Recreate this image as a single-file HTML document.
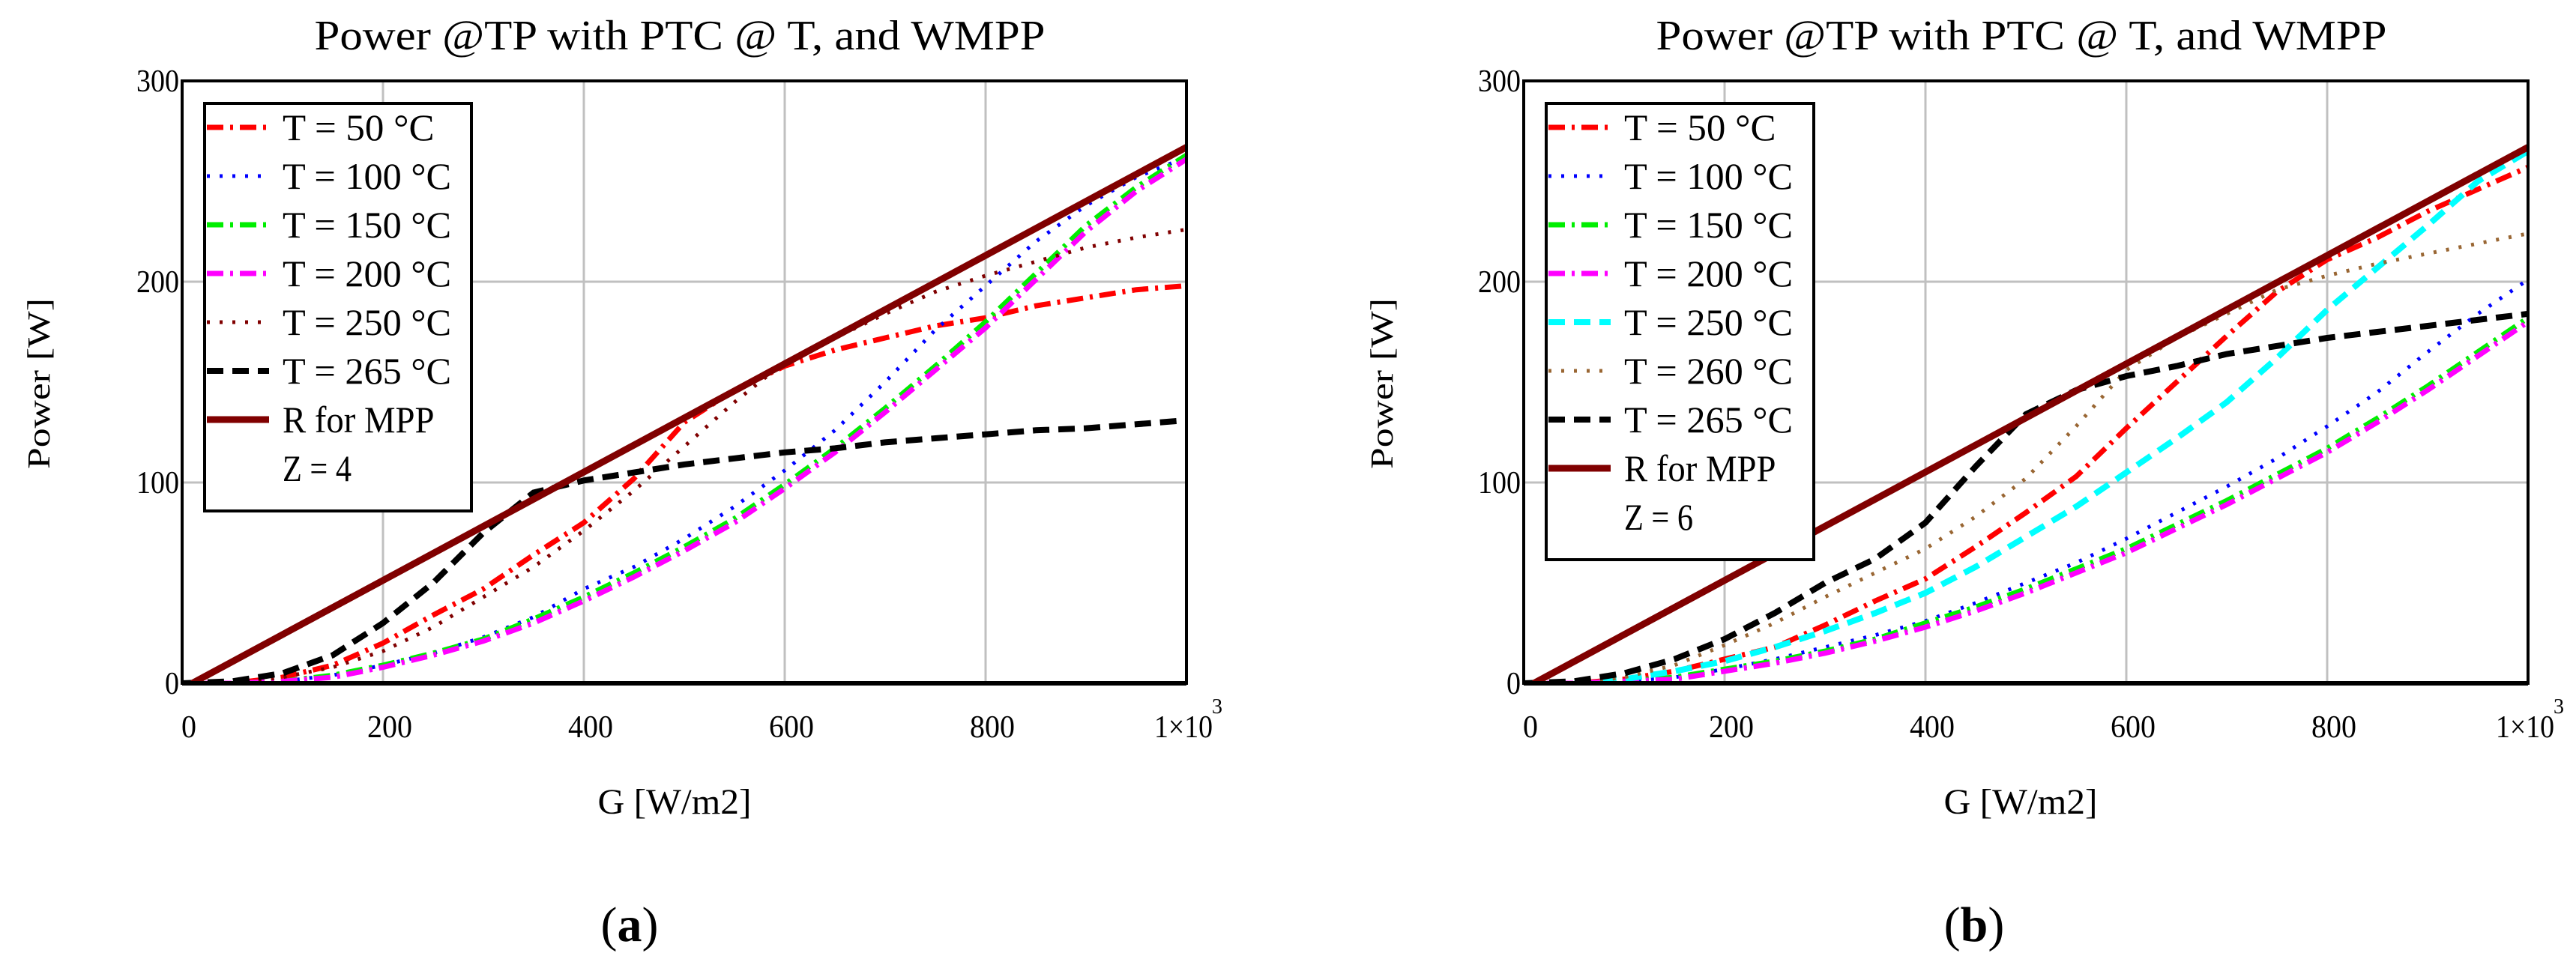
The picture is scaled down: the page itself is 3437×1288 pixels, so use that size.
<!DOCTYPE html>
<html><head><meta charset="utf-8">
<style>
html,body{margin:0;padding:0;background:#fff;}
svg{display:block;font-family:"Liberation Serif",serif;}
</style></head>
<body>
<svg id="fig" width="3437" height="1288" viewBox="0 0 3437 1288" xmlns="http://www.w3.org/2000/svg"></svg>
<script>
const G = [0,50,100,150,200,250,300,350,400,450,500,550,600,650,700,750,800,850,900,950,1000];
const xTicks = [0,200,400,600,800];
const yTicks = [0,100,200,300];
const yTickLabels = ["0","100","200","300"];
const mppG = [10,1000];
const mppP = [0,267];

// panel (a)
const a_T50  = [0,0,3,9,20,34,47,64,80,102,130,146,158,166,172,178,182,188,192,196,198];
const a_T100 = [0,0,1,4,9,15,23,33,47,58,72,88,106,126,150,176,198,220,238,252,262];
const a_T150 = [0,0,1,4,9,15,22,32,43,55,68,82,99,117,137,158,180,204,228,247,263];
const a_T200 = [0,0,1,3,8,14,21,30,41,53,66,80,97,115,135,156,177,201,225,245,261];
const a_T250 = [0,0,3,8,16,28,43,58,76,96,118,140,160,172,184,195,203,210,217,222,226];
const a_T265 = [0,1,5,14,30,50,75,95,101,105,109,112,115,117,120,122,124,126,127,129,131];

// panel (b)
const b_T50  = [0,0,2,6,12,18,29,41,52,68,85,103,127,150,173,195,211,222,235,246,257];
const b_T100 = [0,0,1,3,7,12,18,24,31,40,50,60,72,85,98,112,128,145,165,184,201];
const b_T150 = [0,0,1,3,7,11,16,22,30,38,47,57,67,79,91,104,117,132,148,165,182];
const b_T200 = [0,0,1,2,6,10,15,21,28,36,45,55,65,77,89,102,115,130,146,163,180];
const b_T250 = [0,0,2,6,11,18,26,35,45,58,73,88,105,122,140,162,186,207,228,250,265];
const b_T260 = [0,0,3,9,19,30,43,55,67,83,102,128,156,172,184,196,203,209,214,219,224];
const b_T265 = [0,1,5,12,22,35,50,62,80,108,134,146,153,158,164,168,172,175,178,181,184];

const NS = "http://www.w3.org/2000/svg";
const svg = document.getElementById('fig');
function el(tag, attrs, parent){
  const e = document.createElementNS(NS, tag);
  for (const k in attrs) e.setAttribute(k, attrs[k]);
  (parent||svg).appendChild(e);
  return e;
}
function txt(s, attrs, parent){ const t = el('text', attrs, parent); t.textContent = s; return t; }

const STY = {
  dashdot:{w:7, d:"22 9 4 9"},
  dot:{w:5, d:"4 13"},
  dash:{w:8, d:"22 12"},
  solid:{w:9, d:""}
};

function panel(cfg){
  const g = el('g', {});
  
  
  const X0 = cfg.x0, X1 = cfg.x0 + 1340, Y0 = 912, Y1 = 108;
  const sx = v => X0 + (v/1000)*(X1-X0);
  const sy = v => Y0 - (v/300)*(Y0-Y1);

  // grid
  xTicks.slice(1).forEach(v=>{
    const l = el('line',{x1:sx(v),x2:sx(v),y1:Y1,y2:Y0,stroke:"#c0c0c0","stroke-width":3},g);
    
    
  });
  yTicks.slice(1,3).forEach(v=>{
    const l = el('line',{x1:X0,x2:X1,y1:sy(v),y2:sy(v),stroke:"#c0c0c0","stroke-width":3},g);
    
    
  });

  // series
  const clipId = 'clip'+cfg.name;
  const cp = el('clipPath',{id:clipId},g);
  el('rect',{x:X0,y:Y1-6,width:X1-X0,height:Y0-Y1+6},cp);
  const sg = el('g',{'clip-path':`url(#${clipId})`},g);
  cfg.series.forEach(s=>{
    const xs = s.x || G;
    const pts = xs.map((gv,i)=>`${sx(gv).toFixed(1)},${sy(s.v[i]).toFixed(1)}`).join(' ');
    const st = STY[s.style];
    const p = el('polyline',{points:pts,fill:"none",stroke:s.color,"stroke-width":st.w,"stroke-dasharray":st.d},sg);
    
    
  });

  // frame
  const fr = el('rect',{x:X0,y:Y1,width:X1-X0,height:Y0-Y1,fill:"none",stroke:"#000","stroke-width":4},g);
  
  
  el('line',{x1:X0,x2:X1,y1:Y0,y2:Y0,stroke:"#000","stroke-width":6},g);

  // y tick labels
  yTicks.forEach((v,i)=>{
    const s = yTickLabels[i];
    const t = txt(s,{x:X0-4,y:sy(v)+14,"font-size":42,"text-anchor":"end",textLength:s.length*19,lengthAdjust:"spacingAndGlyphs"},g);
    
    
  });
  // x tick labels
  xTicks.forEach(v=>{
    const s = String(v);
    const t = txt(s,{x:sx(v)+9,y:984,"font-size":42,"text-anchor":"middle",textLength:s.length*20,lengthAdjust:"spacingAndGlyphs"},g);
    
    
  });
  const t1k = txt("1×10",{x:X1-4,y:984,"font-size":42,"text-anchor":"middle",textLength:78,lengthAdjust:"spacingAndGlyphs"},g);
  
  
  const sup = txt("3",{x:X1+41,y:952,"font-size":28,"text-anchor":"middle"},g);
  
  

  // titles
  const tt = txt("Power @TP with PTC @ T, and WMPP",{x:cfg.titleX,y:66,"font-size":56,"text-anchor":"middle",textLength:975,lengthAdjust:"spacingAndGlyphs"},g);
  
  
  const xt = txt("G [W/m2]",{x:cfg.gX,y:1086,"font-size":48,"text-anchor":"middle",textLength:205,lengthAdjust:"spacingAndGlyphs"},g);
  
  
  const yt = txt("Power [W]",{x:0,y:0,"font-size":42,"text-anchor":"middle",textLength:228,lengthAdjust:"spacingAndGlyphs",transform:`translate(${cfg.yTitleX},512) rotate(-90)`},g);
  
  
  const lab = el('text',{x:cfg.labX,y:1256,"font-size":66,"text-anchor":"middle"},g);
  
  
  lab.appendChild(document.createTextNode("("));
  const b = el('tspan',{"font-weight":"bold"},lab); b.textContent = cfg.label;
  lab.appendChild(document.createTextNode(")"));

  // legend
  const lg = el('g',{},g);
  
  
  const LX = X0+30, LW = cfg.legW;
  const rows = cfg.series.length + 1;
  el('rect',{x:LX,y:138,width:LW,height:32+rows*65-8,fill:"#fff",stroke:"#000","stroke-width":4},lg);
  cfg.series.forEach((s,i)=>{
    const y = 170 + i*65;
    const st = STY[s.style];
    const ln = el('line',{x1:LX+3,x2:LX+86,y1:y,y2:y,stroke:s.color,"stroke-width":st.w,"stroke-dasharray":st.d},lg);
    
    
    const lt = txt(s.label,{x:LX+104,y:y+17,"font-size":50,textLength:s.label.length*22.5,lengthAdjust:"spacingAndGlyphs"},lg);
    
    
  });
  const zt = txt(cfg.zText,{x:LX+104,y:170+cfg.series.length*65+17,"font-size":50,textLength:92,lengthAdjust:"spacingAndGlyphs"},lg);
  
  
}

panel({name:"panel-a", x0:243, titleX:907, gX:900, yTitleX:66, labX:840, label:"a", legW:356, zText:"Z = 4",
  series:[
    {id:"series-t50",label:"T = 50 °C",color:"#ff0000",style:"dashdot",v:a_T50},
    {id:"series-t100",label:"T = 100 °C",color:"#0000ff",style:"dot",v:a_T100},
    {id:"series-t150",label:"T = 150 °C",color:"#00ee00",style:"dashdot",v:a_T150},
    {id:"series-t200",label:"T = 200 °C",color:"#ff00ff",style:"dashdot",v:a_T200},
    {id:"series-t250",label:"T = 250 °C",color:"#800000",style:"dot",v:a_T250},
    {id:"series-t265",label:"T = 265 °C",color:"#000000",style:"dash",v:a_T265},
    {id:"series-mpp",label:"R for MPP",color:"#800000",style:"solid",x:mppG,v:mppP}
  ]});
panel({name:"panel-b", x0:2033, titleX:2697, gX:2696, yTitleX:1858, labX:2634, label:"b", legW:357, zText:"Z = 6",
  series:[
    {id:"series-t50",label:"T = 50 °C",color:"#ff0000",style:"dashdot",v:b_T50},
    {id:"series-t100",label:"T = 100 °C",color:"#0000ff",style:"dot",v:b_T100},
    {id:"series-t150",label:"T = 150 °C",color:"#00ee00",style:"dashdot",v:b_T150},
    {id:"series-t200",label:"T = 200 °C",color:"#ff00ff",style:"dashdot",v:b_T200},
    {id:"series-t250",label:"T = 250 °C",color:"#00ffff",style:"dash",v:b_T250},
    {id:"series-t260",label:"T = 260 °C",color:"#996633",style:"dot",v:b_T260},
    {id:"series-t265",label:"T = 265 °C",color:"#000000",style:"dash",v:b_T265},
    {id:"series-mpp",label:"R for MPP",color:"#800000",style:"solid",x:mppG,v:mppP}
  ]});
</script>
</body></html>
